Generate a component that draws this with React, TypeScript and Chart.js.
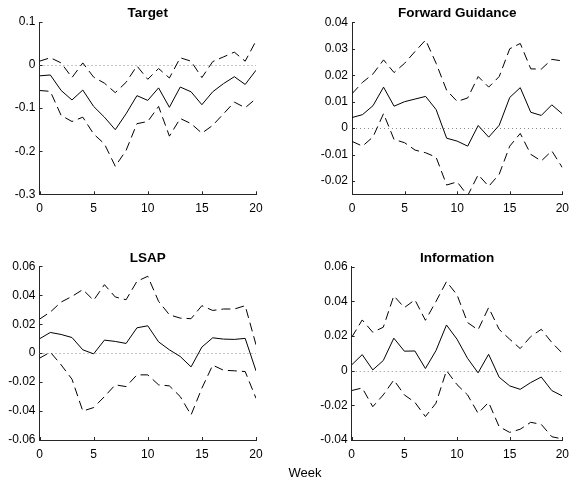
import React, { useEffect, useRef } from "react";
import { Chart, registerables } from "chart.js";

Chart.register(...registerables);

// ---------- data ----------
const weeks = [0, 1, 2, 3, 4, 5, 6, 7, 8, 9, 10, 11, 12, 13, 14, 15, 16, 17, 18, 19, 20];
const xTicks = [0, 5, 10, 15, 20];

const targetMid = [-0.025, -0.023, -0.059, -0.081, -0.058, -0.096, -0.121, -0.150, -0.113, -0.071, -0.082, -0.053, -0.098, -0.051, -0.062, -0.092, -0.062, -0.043, -0.027, -0.045, -0.012];
const targetUpper = [0.009, 0.017, 0.005, -0.029, 0.005, -0.028, -0.042, -0.064, -0.040, -0.002, -0.033, -0.008, -0.030, 0.017, 0.009, -0.029, 0.008, 0.019, 0.030, 0.009, 0.056];
const targetLower = [-0.059, -0.061, -0.117, -0.131, -0.121, -0.160, -0.183, -0.235, -0.198, -0.136, -0.131, -0.096, -0.165, -0.124, -0.136, -0.158, -0.140, -0.113, -0.086, -0.099, -0.078];
const targetTicks = [-0.3, -0.2, -0.1, 0, 0.1];

const fgMid = [0.004, 0.0051, 0.0085, 0.0155, 0.0083, 0.010, 0.011, 0.012, 0.007, -0.0038, -0.0049, -0.0068, 0.001, -0.0034, 0.0011, 0.0116, 0.0153, 0.006, 0.0048, 0.0088, 0.0054];
const fgUpper = [0.013, 0.0173, 0.0205, 0.0258, 0.021, 0.0245, 0.029, 0.0333, 0.0245, 0.0143, 0.0101, 0.0114, 0.0195, 0.0155, 0.0195, 0.030, 0.032, 0.0224, 0.0223, 0.026, 0.0254];
const fgLower = [-0.005, -0.0068, -0.0033, 0.0055, -0.0043, -0.0055, -0.0083, -0.0093, -0.011, -0.0215, -0.0203, -0.0255, -0.0176, -0.022, -0.0174, -0.0068, -0.002, -0.0099, -0.0124, -0.0086, -0.0149];
const fgTicks = [-0.02, -0.01, 0, 0.01, 0.02, 0.03, 0.04];

const lsapMid = [0.0099, 0.0143, 0.0129, 0.0108, 0.0023, -0.0005, 0.009, 0.0081, 0.0067, 0.0175, 0.0189, 0.0078, 0.0023, -0.0023, -0.0095, 0.0042, 0.0106, 0.0097, 0.0095, 0.0102, -0.0122];
const lsapUpper = [0.0235, 0.0284, 0.0353, 0.0392, 0.0439, 0.0365, 0.0473, 0.0388, 0.0369, 0.0496, 0.0531, 0.0358, 0.0265, 0.0242, 0.0238, 0.0328, 0.0295, 0.0305, 0.0305, 0.0328, 0.0058];
const lsapLower = [-0.0035, 0.0007, -0.0081, -0.018, -0.040, -0.0376, -0.030, -0.0219, -0.0231, -0.015, -0.015, -0.0219, -0.0226, -0.030, -0.0427, -0.0242, -0.0083, -0.0118, -0.0122, -0.0127, -0.0312];
const lsapTicks = [-0.06, -0.04, -0.02, 0, 0.02, 0.04, 0.06];

const infoMid = [0.0033, 0.0092, 0.0004, 0.0058, 0.0187, 0.0112, 0.0113, 0.0012, 0.0115, 0.0263, 0.0181, 0.0071, -0.0013, 0.0094, -0.0038, -0.0088, -0.0108, -0.0069, -0.0037, -0.0115, -0.0146];
const infoUpper = [0.0192, 0.0292, 0.0221, 0.025, 0.0431, 0.0363, 0.0408, 0.029, 0.0398, 0.0513, 0.0437, 0.0277, 0.0235, 0.0363, 0.0238, 0.0181, 0.0127, 0.0196, 0.0238, 0.0162, 0.010];
const infoLower = [-0.0115, -0.010, -0.0208, -0.014, -0.0054, -0.014, -0.0183, -0.0265, -0.0188, 0.0, -0.0081, -0.014, -0.0246, -0.0183, -0.0323, -0.0356, -0.0338, -0.0298, -0.031, -0.0381, -0.0394];
const infoTicks = [-0.04, -0.02, 0, 0.02, 0.04, 0.06];

const xLabel = "Week";

// ---------- layout / style ----------
const FONT = "'Liberation Sans', Arial, Helvetica, sans-serif";
const AXIS = "#262626";
const PANEL_W = 288;
const PANEL_H = 240;
const Y_AXIS_W = 40;

type Spec = {
  title: string;
  mid: number[];
  upper: number[];
  lower: number[];
  yTicks: number[];
  yMin: number;
  yMax: number;
  left: number;
  top: number;
  plotLeft: number;
  plotRight: number;
  plotTop: number;
  plotBottom: number;
  titleBase: number;
};

const specs: Spec[] = [
  { title: "Target", mid: targetMid, upper: targetUpper, lower: targetLower, yTicks: targetTicks, yMin: -0.3, yMax: 0.1,
    left: 0, top: 0, plotLeft: 39.5, plotRight: 256, plotTop: 22, plotBottom: 194.3, titleBase: 16.7 },
  { title: "Forward Guidance", mid: fgMid, upper: fgUpper, lower: fgLower, yTicks: fgTicks, yMin: -0.025, yMax: 0.04,
    left: 288, top: 0, plotLeft: 64, plotRight: 281.5, plotTop: 22.3, plotBottom: 194.3, titleBase: 16.7 },
  { title: "LSAP", mid: lsapMid, upper: lsapUpper, lower: lsapLower, yTicks: lsapTicks, yMin: -0.06, yMax: 0.06,
    left: 0, top: 240, plotLeft: 39.5, plotRight: 256, plotTop: 26.3, plotBottom: 200, titleBase: 21.7 },
  { title: "Information", mid: infoMid, upper: infoUpper, lower: infoLower, yTicks: infoTicks, yMin: -0.04, yMax: 0.06,
    left: 288, top: 240, plotLeft: 63.7, plotRight: 281.5, plotTop: 26.5, plotBottom: 200, titleBase: 21.7 },
];

const fmt = (v: number) => String(Number(v.toFixed(4)));

function Panel({ spec }: { spec: Spec }) {
  const ref = useRef<HTMLCanvasElement>(null);
  useEffect(() => {
    const canvas = ref.current!;
    const panelPlugin = {
      id: "panelDecor",
      beforeDatasetsDraw(chart: any) {
        const { ctx, chartArea, scales } = chart;
        const y0 = scales.y.getPixelForValue(0);
        ctx.save();
        ctx.strokeStyle = "#8a8a8a";
        ctx.lineWidth = 1;
        ctx.setLineDash([1, 3]);
        ctx.beginPath();
        ctx.moveTo(chartArea.left, Math.round(y0) + 0.5);
        ctx.lineTo(chartArea.right, Math.round(y0) + 0.5);
        ctx.stroke();
        ctx.restore();
      },
      afterDraw(chart: any) {
        const { ctx, chartArea, scales } = chart;
        ctx.save();
        ctx.strokeStyle = AXIS;
        ctx.lineWidth = 1;
        ctx.setLineDash([]);
        ctx.beginPath();
        for (const t of scales.x.ticks) {
          const px = Math.round(scales.x.getPixelForValue(t.value)) + 0.5;
          ctx.moveTo(px, chartArea.bottom);
          ctx.lineTo(px, chartArea.bottom - 3);
        }
        for (const t of scales.y.ticks) {
          const py = Math.round(scales.y.getPixelForValue(t.value)) + 0.5;
          ctx.moveTo(chartArea.left, py);
          ctx.lineTo(chartArea.left + 3, py);
        }
        ctx.stroke();
        ctx.fillStyle = "#000";
        ctx.font = `bold 13.5px ${FONT}`;
        ctx.textAlign = "center";
        ctx.textBaseline = "alphabetic";
        ctx.fillText(spec.title, (chartArea.left + chartArea.right) / 2, spec.titleBase);
        ctx.restore();
      },
    };

    const line = (vals: number[], dashed: boolean) => ({
      data: weeks.map((w, i) => ({ x: w, y: vals[i] })),
      borderColor: "#000",
      backgroundColor: "#000",
      borderWidth: 1,
      borderDash: dashed ? [9, 5] : [],
      pointRadius: 0,
      tension: 0,
      fill: false,
    });

    const chart = new Chart(canvas, {
      type: "line",
      data: {
        datasets: [line(spec.upper, true), line(spec.mid, false), line(spec.lower, true)],
      },
      plugins: [panelPlugin],
      options: {
        animation: false,
        responsive: false,
        maintainAspectRatio: false,
        layout: {
          padding: {
            left: spec.plotLeft - Y_AXIS_W,
            right: PANEL_W - spec.plotRight,
            top: spec.plotTop,
            bottom: 0,
          },
        },
        plugins: {
          legend: { display: false },
          tooltip: { enabled: false },
          title: { display: false },
        },
        scales: {
          x: {
            type: "linear",
            min: 0,
            max: 20,
            afterBuildTicks: (s: any) => {
              s.ticks = xTicks.map((v) => ({ value: v }));
            },
            afterFit: (s: any) => {
              s.height = PANEL_H - spec.plotBottom;
            },
            grid: { display: false, drawTicks: false },
            border: { display: true, color: AXIS, width: 1 },
            ticks: {
              padding: 7,
              color: "#000",
              font: { family: FONT, size: 12 },
              maxRotation: 0,
              autoSkip: false,
              callback: (v: any) => fmt(Number(v)),
            },
          },
          y: {
            type: "linear",
            min: spec.yMin,
            max: spec.yMax,
            afterBuildTicks: (s: any) => {
              s.ticks = spec.yTicks.map((v) => ({ value: v }));
            },
            afterFit: (s: any) => {
              s.width = Y_AXIS_W;
            },
            grid: { display: false, drawTicks: false },
            border: { display: true, color: AXIS, width: 1 },
            ticks: {
              padding: 4,
              color: "#000",
              font: { family: FONT, size: 12 },
              autoSkip: false,
              callback: (v: any) => fmt(Number(v)),
            },
          },
        },
      },
    } as any);
    return () => chart.destroy();
  }, [spec]);

  return (
    <div style={{ position: "absolute", left: spec.left, top: spec.top, width: PANEL_W, height: PANEL_H }}>
      <canvas ref={ref} width={PANEL_W} height={PANEL_H} style={{ display: "block", width: PANEL_W, height: PANEL_H }} />
    </div>
  );
}

export default function App() {
  return (
    <div style={{ position: "absolute", left: 0, top: 0, width: 576, height: 480, background: "#fff", overflow: "hidden" }}>
      {specs.map((s) => (
        <Panel key={s.title} spec={s} />
      ))}
      <div
        style={{
          position: "absolute",
          left: 305,
          top: 465,
          transform: "translateX(-50%)",
          fontFamily: FONT,
          fontSize: 13,
          lineHeight: "15px",
          color: "#000",
          whiteSpace: "nowrap",
        }}
      >
        {xLabel}
      </div>
    </div>
  );
}
